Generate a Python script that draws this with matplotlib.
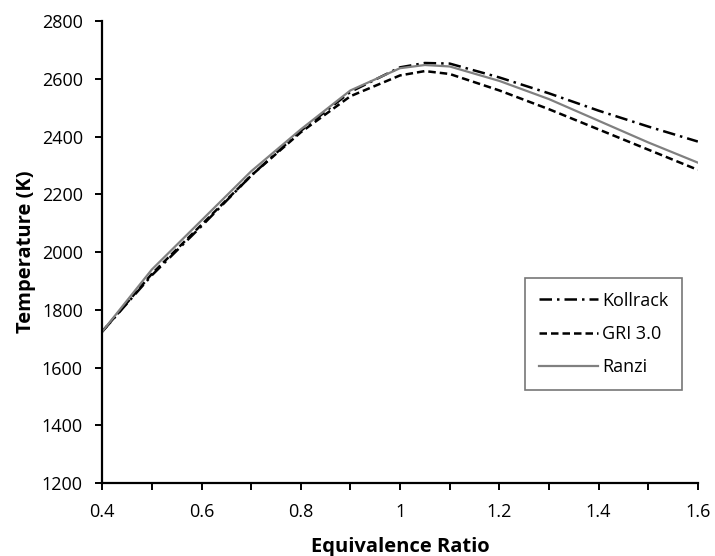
import matplotlib
matplotlib.use("Agg")
import matplotlib.pyplot as plt
from matplotlib.ticker import MultipleLocator

phi = [0.4, 0.5, 0.6, 0.7, 0.8, 0.9, 1.0, 1.05, 1.1, 1.2, 1.3, 1.4, 1.5, 1.6]
kollrack = [1725, 1920, 2090, 2265, 2420, 2555, 2640, 2655, 2653, 2605, 2550, 2490, 2435, 2383]
gri30 = [1725, 1925, 2095, 2265, 2415, 2540, 2612, 2627, 2617, 2560, 2495, 2425, 2355, 2285]
ranzi = [1725, 1940, 2110, 2280, 2425, 2560, 2637, 2648, 2643, 2593, 2530, 2455, 2380, 2310]

plt.rcParams['font.family'] = ['Open Sans', 'DejaVu Sans']

fig = plt.figure(figsize=(7.15, 5.56), dpi=100)
ax = fig.add_axes([0.143, 0.131, 0.833, 0.831])

ax.plot(phi, kollrack, color='black', lw=1.8, linestyle=(0, (5, 2, 1, 2)), label='Kollrack')
ax.plot(phi, gri30, color='black', lw=1.8, linestyle=(0, (3, 1.6)), label='GRI 3.0')
ax.plot(phi, ranzi, color='#808080', lw=1.6, label='Ranzi')

ax.set_xlim(0.4, 1.6)
ax.set_ylim(1200, 2800)
ax.xaxis.set_minor_locator(MultipleLocator(0.1))
ax.yaxis.set_major_locator(MultipleLocator(200))
ax.set_xticks([0.4, 0.6, 0.8, 1.0, 1.2, 1.4, 1.6])
ax.set_xticklabels(['0.4', '0.6', '0.8', '1', '1.2', '1.4', '1.6'])

ax.spines['top'].set_visible(False)
ax.spines['right'].set_visible(False)
for s in ('left', 'bottom'):
    ax.spines[s].set_linewidth(1.6)
ax.tick_params(which='both', direction='out', length=5, width=1.4, labelsize=13)
ax.tick_params(axis='x', pad=9)
ax.tick_params(axis='y', pad=9)

ax.set_xlabel('Equivalence Ratio', fontsize=14.5, fontweight='bold', labelpad=12)
ax.set_ylabel('Temperature (K)', fontsize=14.5, fontweight='bold', labelpad=4)

leg = ax.legend(loc='upper right', bbox_to_anchor=(0.973, 0.444), fontsize=13,
                fancybox=False, edgecolor='#555555', handlelength=3.3,
                labelspacing=0.85, borderpad=0.75, handletextpad=0.2,
                borderaxespad=0)
leg.get_frame().set_linewidth(1.2)

fig.savefig('out.png', dpi=100)
